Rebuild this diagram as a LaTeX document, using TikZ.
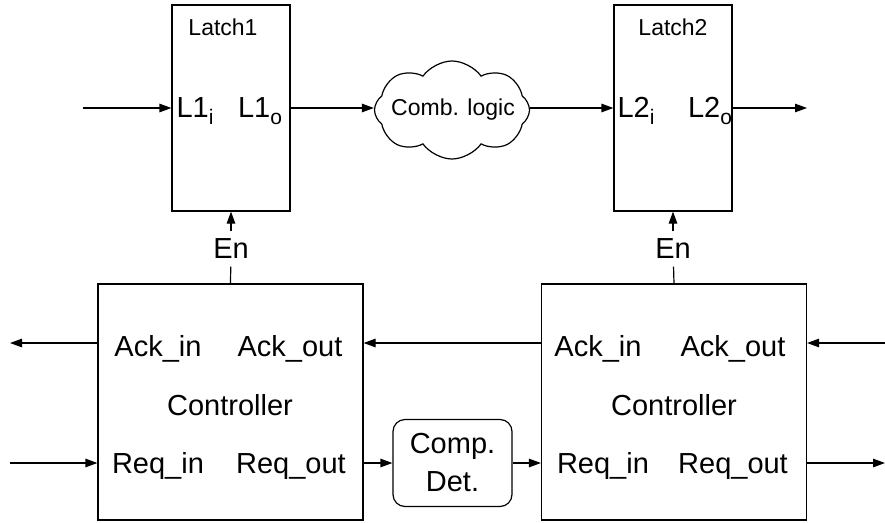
\documentclass[tikz,border=0pt]{standalone}
\usepackage{fontspec}
\setmainfont{Liberation Sans}
\usetikzlibrary{shapes.symbols, arrows.meta}
\newcommand{\sub}[1]{\raisebox{-7pt}{\fontsize{21}{21}\selectfont #1}}

\begin{document}
\begin{tikzpicture}[x=1pt, y=-1pt, line width=1.2pt, >={Triangle[length=12pt,width=8.5pt]},
    big/.style={font=\fontsize{29}{38}\selectfont, inner sep=0pt},
    small/.style={font=\fontsize{23}{28}\selectfont, inner sep=0pt},
    latch/.style={draw, minimum width=118pt, minimum height=206pt, inner sep=0pt},
    ctrl/.style={draw, minimum width=265pt, minimum height=236pt, inner sep=0pt}]
                        \useasboundingbox (0,0) rectangle (885,522);
                        \node[latch] (latch1) at (231,108) {};
                        \node[latch] (latch2) at (673,108) {};
                        \node[small, anchor=base] (name1) at (223,35) {Latch1};
                        \node[small, anchor=base] (name2) at (673,35) {Latch2};
                        \node[big, anchor=base] (l1i) at (195,117) {L1\sub{i}};
                        \node[big, anchor=base] (l1o) at (260,117) {L1\sub{o}};
                        \node[big, anchor=base] (l2i) at (636,117) {L2\sub{i}};
                        \node[big, anchor=base] (l2o) at (710,117) {L2\sub{o}};
                        \node[draw, cloud, cloud puffs=8, cloud puff arc=110, cloud ignores aspect, minimum width=155pt, minimum height=98pt, inner sep=0pt] (comb) at (452,110) {};
                        \node[small] (combtext) at (453,110) {Comb. logic};
                        \coordinate (in1) at (83,108);
                        \coordinate (out2) at (807,108);
                        \draw[->] (in1) -- (latch1.west);
                        \draw[->] (latch1.east) -- (latch1.east -| comb.west);
                        \draw[->] (latch1.east -| comb.east) -- (latch2.west);
                        \draw[->] (latch2.east) -- (out2);
                        \node[ctrl] (ctrl1) at (230.5,402) {};
                        \node[ctrl] (ctrl2) at (674,402) {};
                        \node[big, inner sep=7pt] (en1) at (231,249) {En};
                        \node[big, inner sep=7pt] (en2) at (673,249) {En};
                        \draw[->] (en1) -- (latch1.south);
                        \draw[->] (en2) -- (latch2.south);
                        \draw (en1) -- (ctrl1.north);
                        \draw (en2) -- (ctrl2.north);
                        \node[big, anchor=base] (ackin1) at (158,356) {Ack\_in};
                        \node[big, anchor=base] (ackout1) at (290,356) {Ack\_out};
                        \node[big, anchor=base] (ctrlname1) at (230,415) {Controller};
                        \node[big, anchor=base] (reqin1) at (158,473) {Req\_in};
                        \node[big, anchor=base] (reqout1) at (291,473) {Req\_out};
                        \node[big, anchor=base] (ackin2) at (598,356) {Ack\_in};
                        \node[big, anchor=base] (ackout2) at (733,356) {Ack\_out};
                        \node[big, anchor=base] (ctrlname2) at (674,415) {Controller};
                        \node[big, anchor=base] (reqin2) at (603,473) {Req\_in};
                        \node[big, anchor=base] (reqout2) at (733,473) {Req\_out};
                        \node[draw, rounded corners=12pt, minimum width=119pt, minimum height=87pt, big, align=center] (comp) at (452.5,463) {Comp.\\Det.};
                        \coordinate (ack) at (0,343);
                        \coordinate (req) at (0,463);
                        \coordinate (ackL) at (10,343);
                        \coordinate (reqL) at (10,463);
                        \coordinate (ackR) at (885,343);
                        \coordinate (reqR) at (885,463);
                        \draw[->] (ctrl1.west |- ack) -- (ackL);
                        \draw[->] (reqL) -- (ctrl1.west |- req);
                        \draw[->] (ctrl2.west |- ack) -- (ctrl1.east |- ack);
                        \draw[->] (ctrl1.east |- req) -- (comp.west);
                        \draw[->] (comp.east) -- (ctrl2.west |- req);
                        \draw[->] (ackR) -- (ctrl2.east |- ack);
                        \draw[->] (ctrl2.east |- req) -- (reqR);
                    \end{tikzpicture}
\end{document}
